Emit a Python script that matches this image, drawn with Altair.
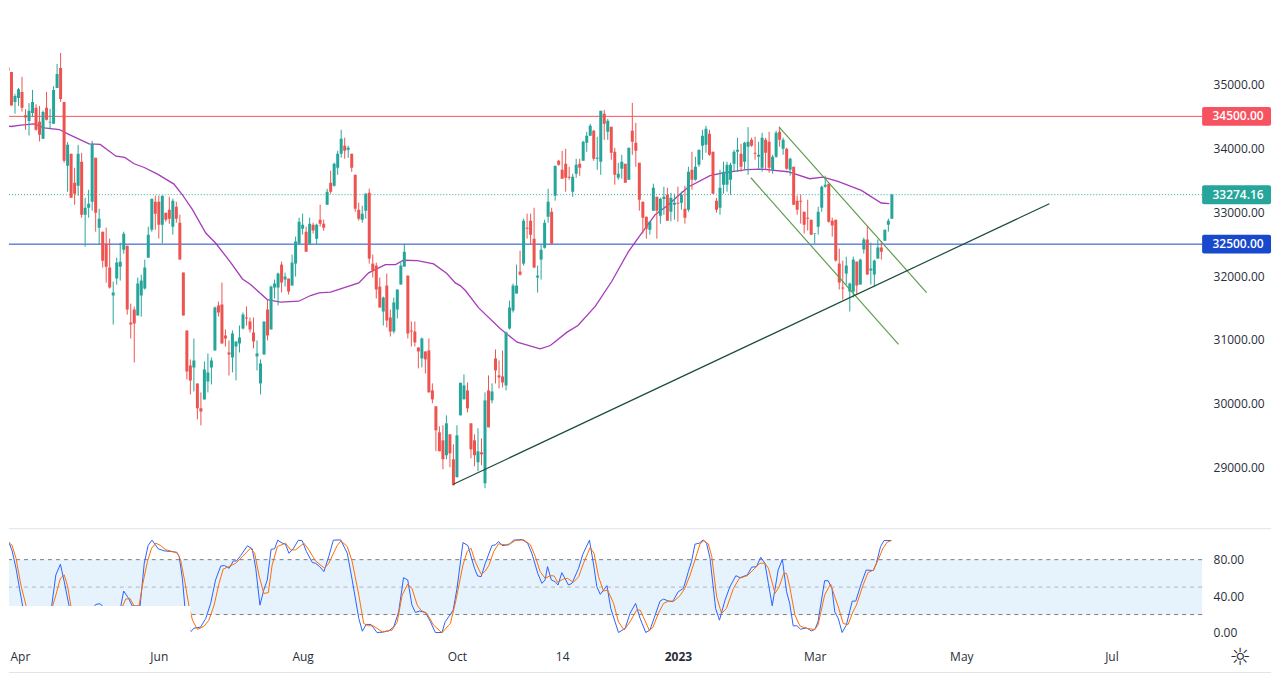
import altair as alt
import pandas as pd

# Candle readings, per trading session (index 0 = first session drawn)
highs = [34961,35367,35367,35195,34851,34945,35117,34612,34705,34914,34690,34664,34591,34883,34617,34971,35320,35492,34726,34096,33914,33695,34054,33929,33226,33351,34117,33851,33055,32695,32758,32586,31914,32289,32523,32695,32476,31570,31523,31976,32023,32258,32773,33211,33258,33258,33258,32992,33242,33211,33164,32961,32055,31148,30695,31023,30320,30180,30664,30789,30727,31523,31601,31898,31164,30992,
 31149,30977,31227,31430,31524,31352,31352,30993,30696,31290,31633,31852,31946,32055,32227,32055,31961,32337,32618,32915,32977,32774,32915,32836,32821,33118,32883,33368,33649,33774,33961,34290,34165,34040,33915,33586,33149,33102,33300,33368,32337,32212,31977,31680,32040,31477,31665,31790,32212,32508,32008,31290,31290,30883,31040,30821,31024,30321,29962,29649,29665,29821,29524,29368,29665,
 30331,30461,30336,29696,29524,29618,29461,30180,30446,30321,30852,30680,30836,31133,31617,31883,32180,32399,32898,32977,32977,33070,32164,32492,32883,33367,33070,33727,33820,33961,33992,33711,33602,33836,33836,34117,34258,34383,34289,34180,34586,34601,34461,34336,34008,33773,33898,33758,34008,34711,34398,33773,
 33165,32930,32852,33446,33243,33227,33399,33383,33305,33290,33399,33321,33415,33711,33946,33868,33977,34290,34352,34290,33946,33227,33665,33790,33790,33774,33977,34165,34071,34102,34331,34165,34180,34102,34243,34165,34258,33899,34274,34336,34165,34008,33852,33711,33258,33274,33008,33196,32883,32670,33086,33415,33571,33446,32915,32883,32430,32243,32305,31899,32305,32227,32274,32602,32774,32524,32258,32571,32540,32727,32899,33290]
body_tops = [34961,35289,35268,35195,34820,34924,34883,34518,34586,34726,34633,34414,34570,34633,34414,34914,35164,35258,34726,34054,33914,33461,33914,33789,33070,33133,34070,33851,32898,32695,32508,32133,31742,32211,32226,32664,32476,31273,31477,31883,31930,32133,32648,33211,33164,33164,33258,32992,33039,33180,33086,32836,32055,31148,30602,30680,30320,29930,30539,30492,30680,31508,31539,31555,31070,30805,
 31102,30977,31040,31399,31352,31290,31118,30790,30633,31290,31477,31836,31883,32040,32180,31993,31961,32212,32540,32852,32805,32696,32821,32805,32805,32883,32821,33321,33461,33758,33915,34149,34040,34008,33915,33586,33040,32977,33290,33305,32196,32165,31836,31665,31852,31352,31587,31790,32165,32383,32008,31149,31133,30883,31024,30821,30837,30212,29962,29555,29430,29696,29524,29133,29509,
 30331,30289,30211,29696,29430,29258,29242,30055,30211,30195,30711,30446,30430,31117,31508,31852,31852,32070,32867,32758,32867,32586,32008,32414,32836,33164,33008,33727,33805,33664,33758,33555,33555,33742,33758,34102,34195,34352,34273,33852,34586,34539,34430,34336,33945,33602,33789,33758,34008,34273,34086,33773,
 33165,32930,32852,33383,33243,33211,33243,33274,33227,33149,33149,33274,33055,33633,33665,33711,33977,34196,34305,34227,33946,33180,33383,33633,33743,33743,33946,33977,33915,34086,34102,34133,33930,33899,34165,34133,34102,33868,34243,34258,34133,33993,33836,33711,33180,33180,33008,32915,32883,32665,33008,33399,33430,33446,32868,32883,32196,31821,32165,31883,32258,32227,32258,32571,32571,32118,32243,32446,32446,32727,32868,33274.16]
body_bottoms = [34820,35101,35211,34669,34726,34789,34633,34482,34429,34554,34289,34211,34148,34445,34403,34383,34945,34773,33804,33726,33226,33289,33414,32961,32961,33070,33164,32992,32758,32242,32148,31820,31695,31961,32148,32414,31477,31242,31258,31383,31695,31805,32289,32726,32976,32805,32805,32883,32898,32773,32898,32258,31383,30508,30367,30570,29930,29883,30070,30352,30570,30836,31430,30945,31023,30773,
 30727,30899,30946,31180,31337,31165,30977,30743,30321,30774,31071,31165,31821,31821,31899,31946,31758,31852,32196,32508,32743,32383,32508,32712,32586,32821,32758,33118,33321,33415,33696,33915,33961,33977,33696,33055,32899,32883,33024,32274,32087,31790,31508,31446,31305,31133,31133,31477,31868,32149,31102,31133,30962,30821,30712,30696,30180,30071,29587,29259,29134,29196,29227,28727,28852,
 29821,30071,29930,29289,29196,29086,29211,28758,29633,30055,30524,30414,30336,30289,31180,31461,31727,32023,32195,32742,32648,32133,31977,32258,32445,32930,32508,33258,33742,33523,33539,33539,33320,33602,33695,33805,34086,34195,33836,33836,33789,34383,34258,33930,33586,33539,33680,33461,33508,34102,33961,33195,
 32915,32743,32727,33024,33024,32946,33206,32868,33008,33118,33133,33149,32915,33040,33508,33508,33743,34040,34055,33899,33290,33040,33071,33430,33430,33508,33758,33946,33711,33790,34024,34040,33915,33868,33696,33930,33696,33665,33868,34133,33993,33680,33665,33118,33040,33165,32805,32899,32649,32659,32774,33071,33399,32852,32790,32243,31899,31805,32040,31758,31758,31852,31868,32415,32024,32087,32024,32274,32383,32555,32805,32899]
lows = [34560,35028,35060,34669,34544,34664,34575,34289,34200,34487,34278,34107,34148,34435,34299,34383,34945,34726,33773,33320,33226,33117,33258,32914,32461,32914,33023,32695,32492,32133,31898,31805,31242,31867,31930,32351,31398,31023,30648,31383,31367,31789,32289,32695,32726,32586,32508,32851,32820,32648,32836,32258,31383,30383,30148,30195,29758,29664,30070,30180,30305,30836,31367,30945,30898,30445,
 30493,30368,30805,31165,31227,31118,30868,30524,30149,30774,30993,31165,31649,31540,31743,31837,31712,31852,31993,32508,32649,32383,32508,32665,32493,32774,32712,33118,33290,33399,33586,33852,33836,33852,33633,33008,32868,32836,32899,32196,31977,31649,31508,31227,31196,31055,31102,31337,31868,32149,31024,30899,30899,30555,30571,30477,30180,30009,29259,29259,28977,29134,29009,28727,28852,
 29821,30071,29867,29149,29024,28946,29039,28680,29633,30008,30320,30242,30258,30211,31164,31430,31727,32008,32164,32586,32492,32133,31742,31945,32430,32836,32492,33180,33727,33523,33320,33508,33242,33539,33570,33805,33945,34195,33805,33664,33586,34133,34133,33820,33430,33508,33523,33461,33508,33898,33711,33023,
 32665,32586,32649,33024,32586,32821,32961,32868,32857,32883,32852,33040,32821,33008,33352,33493,33711,33821,33930,33883,33290,32993,32961,33290,33321,33274,33633,33633,33633,33665,33586,34024,33821,33665,33633,33665,33618,33602,33852,34024,33899,33665,33571,33118,32961,32821,32665,32712,32649,32508,32649,33008,33383,32836,32618,32227,31790,31633,31868,31446,31665,31712,31868,32352,32024,31868,31837,32274,32258,32555,32696,32899]
directions = ("ggrrggrrgg" "rrgrgggrrg" "rrgrgggrgr" "rrggggrrrg" "ggggrrgrrg" "rrrrrgrrgg" "ggrrrr"
              "ggggrrrggg" "rgggrgrggg" "grgrgrrgrg" "ggrgrrrggr" "rrrgrrggggrr" "rrgrrrrrrgrrg"
              "ggrrrgrgrg" "rrrggggrgr" "rrggggrgrr" "rrggrgggrg" "grgrrggrgr" "rr"
              "rrggrggrggrgrgrggggrrrggggggrggrrggrrggrgrgrrrrrrggggrrrrrgggrggrgggrggg")

ma_index = [0,2.7,5.5,9.3,12.2,16.5,18.9,25,28.2,32.7,35.2,37.9,40.8,44.6,49.3,51.7,54.6,58.4,61.2,65.5,68.9,71.2,76,79.8,85,88.4,90.8,94.1,102.2,105,109.8,112.7,115,118.9,123.6,127.4,129.8,131.2,132.7,136.5,142.7,147.5,154.1,157,161.8,164.9,169.9,174.6,179.4,183.2,187,190.8,193.6,196.5,202.7,206,213.1,217.4,225,231.2,235,239.3,246,251.7,254]
ma_values = [34362,34341,34362,34383,34320,34294,34226,34070,34060,33877,33857,33758,33700,33596,33440,33273,33039,32674,32518,32216,31956,31868,31633,31592,31607,31696,31738,31748,31894,32050,32180,32180,32248,32243,32191,32040,31894,31852,31774,31503,31175,30966,30862,30914,31123,31227,31529,31919,32388,32675,32961,33118,33258,33394,33571,33612,33665,33675,33633,33524,33550,33482,33342,33144,33133]

k_index = [0,0.6,1.9,3,4.1,5.1,6,7,9.3,12.2,14.3,15.5,16.8,17.9,19.3,21.7,26.5,27,28.1,28.9,32.2,34.1,34.9,36.2,37.4,39.6,40.8,41.9,43,44.8,46.5,48.4,50.1,50.8,51.7,52.4,54.1,55,56.9,58.4,59.8,61.2,62.7,63.8,65.1,66.3,67.2,68.4,70.3,71.7,72.7,73.9,75,76,77.1,78.1,79,80.3,81.2,82.2,83.4,84.9,86,87.2,88.9,89.8,91,92.2,93.6,94.9,97,98.9,100.3,102.2,103.2,104.3,105.7,107.4,108.9,110.8,112.2,113.6,115,116.2,117.4,118.4,119.6,121.3,122.7,124.1,126,126.9,
 128.4,129.2,130.3,132,133.4,135.3,136.2,137.2,138.4,140.3,141.3,142.2,143.2,145.1,146.5,148.9,150.5,151.7,153.4,154.6,155.5,156.2,157.3,158.4,159.2,160.3,162.2,163.2,165.1,166.3,168.2,169.4,170.3,171.3,173.2,174.3,176.5,178.4,179.8,181.4,182.7,184.3,185.5,188.4,189.4,190.8,192,193.6,195.1,196.5,197.4,198.4,199.6,200.8,201.7,202.7,204.3,205.4,207,208.4,210.1,211.3,213.4,214.6,216,217.2,218.4,219.4,220.5,222.2,223.4,224.6,225.5,226.5,227.6,228.6,230.3,231.7,232.7,233.6,235.5,236.5,237.6,238.4,239.4,240.5,241.7,242.4,243.4,244.4,246,247.4,249.4,250.3,251.5,252.5,253.6,254.6]
k_values = [99.1,100.9,100.5,89.6,70.6,48.6,29.3,8.4,4.8,12.1,29.3,63.3,75,56,29.3,12.1,29.3,31.1,31.8,29.3,15.7,29.3,45.7,38.4,29.3,29.3,76.1,95.4,101.3,91.8,89.6,88.9,88.1,83.4,59.6,29.3,1.1,5.1,6.2,15.7,32.2,57.8,73.1,73.5,70.6,78.6,78.6,84.5,95.1,91.8,70.6,30.3,46.8,57.8,91.4,91.8,101.3,98,96.9,87,91.8,101.3,100.6,88.9,76.8,76.1,72.4,66.9,83.4,101.3,101.6,87,57.8,15.7,1.8,9.2,9.2,0.4,0.7,2.2,6.6,23,60.3,57.8,30.3,22.3,23.8,22.3,12.1,0.4,0.4,12.1,
 20.1,24.9,48.6,98.7,95.4,70.6,62.2,61.4,76.1,95.4,96.2,99.8,95.4,96.2,101.3,102,98,87,65.1,54.1,57.8,72.4,57.8,55.9,52.3,65.8,52.3,54.1,70.6,85.9,101.3,74.2,50.5,42.1,51.6,26.7,0.4,4.8,21.2,32.2,15.7,0.4,3,34.7,36.9,34.7,34,45,48.6,66.9,77.9,96.9,98,101.6,98,81.5,26.7,13.9,35.8,50.5,62.5,60.3,63.3,71.7,72.4,82.6,76.1,54.1,29.6,68.7,80.4,45,32.2,7.7,7.7,4,5.5,2.2,3.7,12.1,57,57,48.6,23,15.7,0.4,8.4,19.4,34.7,34.7,54.1,68.7,68,76.1,94.3,100.9,100.9,100.9]
d_index = [0,1.7,2.9,4.1,5.5,7,7.4,13.1,14.6,15.5,16.8,17.9,18.9,19.8,20.3,28.4,34.6,35.5,36.7,37.9,39.3,40.3,41.7,42.9,44.1,45.5,47,48.9,50.3,51.2,52.4,53.6,54.6,56,57.9,59.3,60.8,62.2,63.4,65,67,68.9,71.2,72.4,73.6,75,76.3,77.4,78.9,81.2,82.7,84.1,86.5,87.9,89.8,92.4,93.6,96,97.1,98.9,100.3,102.2,103.6,105,106.3,108.9,111.7,113.2,114.6,116.2,117.4,118.9,120,121.7,123.6,126,127.9,
 128.4,129.8,132,133.2,134.3,135.5,137.2,138.4,139.4,140.8,142.2,144.1,145.5,147,149.4,151.3,152.7,154.1,155.5,157,158.1,159.1,160.8,161.9,163.6,165.1,166.5,168.4,169.5,170.8,172.2,173.4,175.1,176.5,178.1,179.8,181.7,182.7,183.6,185.3,186.3,187.9,189.4,190.8,192.4,194.1,195.5,197,198.4,199.8,200.8,202.2,203.2,204.6,206,207.4,209.4,211.1,213.4,215.5,217,218.4,219.4,221.3,222.5,223.8,224.6,225.5,227,228.4,230.3,232.7,233.6,235.5,237.2,238.4,239.4,240.8,242.2,243.6,244.6,246.5,247.9,249.5,250.8,252.2,253.4,254.6]
d_values = [92.5,99.1,96.2,81.5,52.3,29.3,15.7,12.1,29.3,41.3,59.6,63.3,50.5,29.3,15.7,19.4,29.3,36.9,37.7,29.3,29.3,52.3,77.9,92.5,98,95.4,90.7,88.9,87,79.7,55.9,29.3,13.9,3.7,7.3,13.9,30.4,54.1,69.8,72.4,76.1,83.4,92.5,87,63.3,43.1,43.9,74.2,94.3,98,90.7,90.7,98,90.7,78.6,70.6,76.1,95.4,100.5,94.3,77.9,41.3,10.2,7.7,7.7,1.1,3,12.1,41.3,53.4,48.6,30.4,24.5,21.2,8.4,0,8.4,
 10.2,32.2,74.2,88.9,92.5,77.9,64,67.6,73.5,88.9,97.3,96.2,97.3,100.9,101.6,96.2,83.4,66.9,59.6,62.5,62.2,55.2,58.9,59.6,55.2,61.4,76.1,93.2,87,61.4,45.7,46.8,32.2,12.1,3,12.1,24.9,24.9,17.6,3,5.5,21.2,32.2,34.7,34.7,40.6,48.6,63.3,79.7,96.9,100.5,97.3,83.4,39.5,21.2,26.7,48.6,59.6,62.5,70.6,76.1,76.1,70.6,43.1,50.5,65.1,65.1,50.5,19.4,7.7,4.8,3.7,8.4,41.3,53.4,39.5,28.5,10.2,9.1,23,30.4,52.3,65.8,68.7,79.7,92.5,99.1,100.9]

tick_sessions = [5.4, 45, 86, 130, 160, 193, 232, 273.8, 316.6]
tick_names = ["Apr", "Jun", "Aug", "Oct", "14", "2023", "Mar", "May", "Jul"]
price_ticks = [29000, 30000, 31000, 32000, 33000, 34000, 35000]
stoch_ticks = [0, 40, 80]
level_prices = [34500.0, 33274.16, 32500.0]
level_colors = ["#f7525f", "#26a69a", "#1848cc"]


def recal(values):
    # index readings of the lines were taken with a 3.5 session spacing; the candles sit at 3.513
    return [(0.72 + 3.5 * v) / 3.513 for v in values]


UP, DOWN = "#26a69a", "#ef5350"
candles = pd.DataFrame({"i": range(len(highs)), "h": highs, "l": lows, "t": body_tops,
                        "b": body_bottoms, "d": list(directions)[:len(highs)]})
color_enc = alt.Color("d:N", scale=alt.Scale(domain=["g", "r"], range=[UP, DOWN]), legend=None)

X_MIN, X_MAX = 2.29, 342.45
x_scale = alt.Scale(domain=[X_MIN, X_MAX], nice=False, zero=False, padding=0)
y_price = alt.Scale(domain=[28062.5, 36187.5], nice=False, zero=False)
y_stoch = alt.Scale(domain=[-13.83, 113.82], nice=False, zero=False)
FONT = "Open Sans"
TXT = "#2a2e39"

price_axis = alt.Axis(values=price_ticks, format=".2f", orient="right", grid=False, ticks=False, domain=False,
                      labelFont=FONT, labelFontSize=12, labelColor=TXT, labelPadding=11, labelAlign="left", title=None)
stoch_axis = alt.Axis(values=stoch_ticks, format=".2f", orient="right", grid=False, ticks=False, domain=False,
                      labelFont=FONT, labelFontSize=12, labelColor=TXT, labelPadding=11, labelAlign="left", title=None)
time_axis = alt.Axis(values=tick_sessions, grid=False, ticks=False, domain=False, labelFont=FONT, labelFontSize=12,
                     labelColor=TXT, labelPadding=6, labelOverlap=False, labelBound=False, labelFlush=False, title=None,
                     labelFontWeight=alt.condition("datum.value == 193", alt.value("bold"), alt.value("normal")),
                     labelExpr="{" + ",".join(f"'{k}':'{n}'" for k, n in zip(tick_sessions, tick_names)) + "}[datum.value]")

Xp = alt.X("i:Q", scale=x_scale, axis=None, title=None)
Xs = alt.X("i:Q", scale=x_scale, axis=time_axis, title=None)
X2 = alt.X2("i2:Q")
Yp = alt.Y("p:Q", scale=y_price, axis=price_axis, title=None)
Ys = alt.Y("v:Q", scale=y_stoch, axis=stoch_axis, title=None)


def segment(i0, p0, i1, p1, color):
    d = pd.DataFrame({"i": [i0, i1], "p": [p0, p1]})
    return alt.Chart(d).mark_line(color=color, strokeWidth=1.2, clip=True).encode(x=Xp, y=Yp)


wicks = alt.Chart(candles).mark_rule(strokeWidth=1, clip=True).encode(
    x=Xp, y=alt.Y("h:Q", scale=y_price, axis=price_axis, title=None), y2="l:Q", color=color_enc)
bodies = alt.Chart(candles).mark_bar(size=3, clip=True).encode(
    x=Xp, y=alt.Y("t:Q", scale=y_price, axis=price_axis, title=None), y2="b:Q", color=color_enc)

ma = alt.Chart(pd.DataFrame({"i": recal(ma_index), "p": ma_values})).mark_line(
    color="#9c27b0", strokeWidth=1.3, opacity=0.9, clip=True).encode(x=Xp, y=Yp)

lv = pd.DataFrame({"p": level_prices, "c": level_colors})
solid = alt.Chart(lv[lv.p != 33274.16]).mark_rule(strokeWidth=1).encode(y=Yp, color=alt.Color("c:N", scale=None))
dotted = alt.Chart(lv[lv.p == 33274.16]).mark_rule(strokeWidth=1, strokeDash=[1, 2]).encode(
    y=Yp, color=alt.Color("c:N", scale=None))

tags = lv.assign(i=X_MAX, i2=362.1, lo=lv.p - 148, hi=lv.p + 148, cx=352.7,
                 label=[f"{v:.2f}" for v in level_prices])
tag_rect = alt.Chart(tags).mark_rect(cornerRadius=2).encode(
    x=Xp, x2=X2, y=alt.Y("lo:Q", scale=y_price, axis=price_axis, title=None), y2="hi:Q",
    color=alt.Color("c:N", scale=None))
tag_text = alt.Chart(tags).mark_text(color="white", font=FONT, fontSize=12, fontWeight=600).encode(
    x=alt.X("cx:Q", scale=x_scale, axis=None, title=None), y=Yp, text="label:N")

trend = segment(128.96, 28742, 298.9, 33133, "#1b4d3e")
chan1 = segment(221.8, 34336, 263.9, 31742, "#5f9e4f")
chan2 = segment(213.8, 33539, 255.9, 30930, "#5f9e4f")

price_pane = alt.layer(solid, dotted, ma, wicks, bodies, chan1, chan2, trend, tag_rect, tag_text).properties(
    width=1195, height=520)

# Oscillator pane
band = pd.DataFrame({"i": [X_MIN], "i2": [X_MAX], "v": [80], "v2": [20]})
band_rect = alt.Chart(band).mark_rect(color="#e6f3fd").encode(x=Xs, x2=X2, y=Ys, y2="v2:Q")
dash_hi = alt.Chart(pd.DataFrame({"v": [80, 20]})).mark_rule(color="#787b86", strokeWidth=1, strokeDash=[4, 4]).encode(y=Ys)
dash_mid = alt.Chart(pd.DataFrame({"v": [50]})).mark_rule(color="#b2b5be", strokeWidth=1, strokeDash=[4, 4]).encode(y=Ys)
k_line = alt.Chart(pd.DataFrame({"i": recal(k_index), "v": k_values})).mark_line(color="#2962ff", strokeWidth=1, clip=True).encode(x=Xs, y=Ys)
d_line = alt.Chart(pd.DataFrame({"i": recal(d_index), "v": d_values})).mark_line(color="#ff6d00", strokeWidth=1, clip=True).encode(x=Xs, y=Ys)
cover = alt.Chart(pd.DataFrame({"i": [X_MIN], "i2": [54.1], "v": [29.3], "v2": [-13.83]})).mark_rect(color="white").encode(
    x=Xs, x2=X2, y=Ys, y2="v2:Q")
top_line = alt.Chart(pd.DataFrame({"n": [0]})).mark_rule(color="#e0e3eb", strokeWidth=1).encode(
    x=alt.value(0), x2=alt.value(1264), y=alt.value(0))
bottom_line = alt.Chart(pd.DataFrame({"n": [0]})).mark_rule(color="#e0e3eb", strokeWidth=1).encode(
    x=alt.value(0), x2=alt.value(1264), y=alt.value(144))
gear = alt.Chart(pd.DataFrame({"i": [353.3], "v": [-27.7], "s": ["☼"]})).mark_text(
    font="DejaVu Sans", fontSize=24, color=TXT).encode(x=Xs, y=Ys, text="s:N")

stoch_pane = alt.layer(band_rect, dash_hi, dash_mid, k_line, d_line, cover, top_line, bottom_line, gear).properties(
    width=1195, height=117)

chart = alt.vconcat(price_pane, stoch_pane, spacing=0).resolve_scale(x="independent", y="independent").properties(
    padding=0, background="white").configure_view(stroke=None)

chart.save("out.html", embed_options={"renderer": "svg", "actions": False})
